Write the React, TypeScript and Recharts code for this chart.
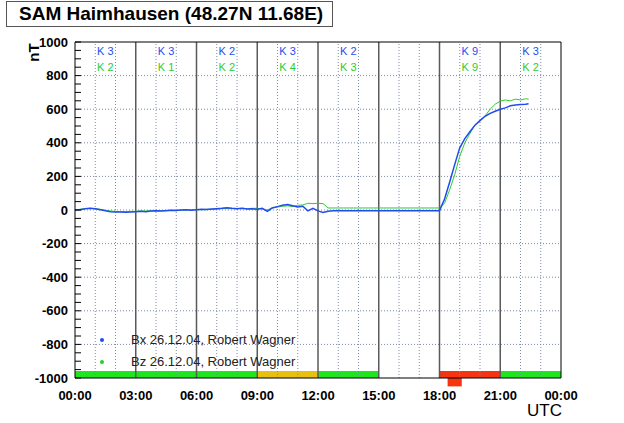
import React from 'react';
import {
  LineChart,
  Line,
  XAxis,
  YAxis,
  ReferenceLine,
  ReferenceArea,
  ReferenceDot,
} from 'recharts';

// time of day in hours (UTC)
const HOURS = [
  0, 0.25, 0.5, 0.75, 1, 1.25, 1.5, 1.75, 2, 2.25, 2.5, 2.75, 3, 3.25, 3.5, 3.75,
  4, 4.25, 4.5, 4.75, 5, 5.25, 5.5, 5.75, 6, 6.25, 6.5, 6.75, 7, 7.25, 7.5, 7.75,
  8, 8.25, 8.5, 8.75, 9, 9.25, 9.5, 9.75, 10, 10.25, 10.5, 10.75, 11, 11.25, 11.5, 11.75,
  12, 12.25, 12.5, 12.75, 13, 13.25, 13.5, 13.75, 14, 14.25, 14.5, 14.75, 15, 15.25, 15.5, 15.75,
  16, 16.25, 16.5, 16.75, 17, 17.25, 17.5, 17.75, 18, 18.25, 18.5, 18.75, 19, 19.25, 19.5, 19.75,
  20, 20.25, 20.5, 20.75, 21, 21.25, 21.5, 21.75, 22, 22.25, 22.4,
];

// Bx in nT (blue)
const BX = [
  0, 2, 8, 10, 8, 2, -5, -10, -12, -12, -14, -12, -10, -8, -10, -6,
  -5, -6, -4, -2, -3, 0, 2, -1, 2, 4, 3, 6, 8, 10, 14, 10,
  8, 10, 6, 8, 4, 10, -8, 12, 20, 28, 32, 25, 18, 22, -5, 10,
  -5, -15, -8, -4, -4, -4, -4, -4, -4, -4, -4, -4, -4, -4, -4, -4,
  -4, -4, -4, -4, -4, -4, -4, -4, -4, 65, 165, 270, 370, 425, 466, 505,
  532, 558, 575, 588, 600, 608, 620, 625, 628, 630, 632,
];

// Bz in nT (green)
const BZ = [
  2, 4, 8, 10, 8, 4, -2, -6, -8, -10, -10, -8, -8, -6, -6, -4,
  -4, -4, -2, -2, -2, 0, 0, 2, 2, 2, 4, 4, 6, 8, 8, 8,
  8, 10, 8, 10, 10, 5, 0, 15, 18, 22, 25, 20, 28, 30, 40, 38,
  40, 38, 12, 12, 12, 12, 12, 12, 12, 12, 12, 12, 12, 12, 12, 12,
  12, 12, 12, 12, 12, 12, 12, 12, 12, 40, 120, 210, 320, 400, 455, 505,
  535, 560, 600, 630, 648, 655, 650, 660, 655, 662, 660,
];

// 3-hour blocks with K indices
const BLOCK_START = [0, 3, 6, 9, 12, 15, 18, 21];
const K_BX = [3, 3, 2, 3, 2, null, 9, 3];
const K_BZ = [2, 1, 2, 4, 3, null, 9, 2];
const BAR_COLORS = ['#1ee61e', '#1ee61e', '#1ee61e', '#e8c00f', '#1ee61e', null, '#f63410', '#1ee61e'];

const X_TICKS = [0, 3, 6, 9, 12, 15, 18, 21, 24];
const Y_GRID = [-800, -600, -400, -200, 0, 200, 400, 600, 800];
// every 50 nT gets a small tick; every 200 nT also gets a label
const Y_TICKS = Array.from({ length: 41 }, (_, i) => -1000 + i * 50);
const HOUR_LINES = [1, 2, 4, 5, 7, 8, 10, 11, 13, 14, 16, 17, 19, 20, 22, 23];
const BLOCK_LINES = [3, 6, 9, 12, 15, 18, 21];

const BLUE = '#1f4cf0';
const GREEN = '#2ccc2c';
const GRID = '#7d8aa8';
const FONT = '"Liberation Sans", Arial, Helvetica, sans-serif';

const data = HOURS.map((t, i) => ({ t, bx: BX[i], bz: BZ[i] }));

const fmtTime = (h: number) => `${String(h % 24).padStart(2, '0')}:00`;

const YTick = ({ x, y, payload }: any) => {
  const v = payload.value;
  return (
    <g>
      <line x1={x + 6} x2={x + 12} y1={y} y2={y} stroke="#000" />
      {v % 200 === 0 && (
        <text x={x - 1} y={y} dy={4.5} textAnchor="end" fill="#000" fontSize={13} fontWeight="bold" fontFamily={FONT}>
          {v}
        </text>
      )}
    </g>
  );
};

export default function App() {
  return (
    <div style={{ position: 'absolute', left: 0, top: 0, width: 624, height: 423, background: '#fff', fontFamily: FONT }}>
      <LineChart width={624} height={423} data={data} margin={{ top: 42, right: 63, bottom: 0, left: 0 }}>
        {/* K index strip along the bottom */}
        {BLOCK_START.map((s, i) =>
          BAR_COLORS[i] ? (
            <ReferenceArea key={'bar' + i} x1={s} x2={s + 3} y1={-1000} y2={-958} fill={BAR_COLORS[i]} fillOpacity={1} stroke="none" />
          ) : null
        )}
        <ReferenceArea x1={18.4} x2={19.1} y1={-1050} y2={-1000} fill="#f63410" fillOpacity={1} stroke="none" ifOverflow="visible" />

        {Y_GRID.map((v) => (
          <ReferenceLine key={'g' + v} y={v} stroke={GRID} strokeDasharray="1 2" />
        ))}
        {HOUR_LINES.map((h) => (
          <ReferenceLine key={'h' + h} x={h} stroke={GRID} strokeDasharray="1 2" />
        ))}
        {BLOCK_LINES.map((h) => (
          <ReferenceLine key={'b' + h} x={h} stroke="#5a5a5a" strokeWidth={1.5} />
        ))}
        <ReferenceLine y={1000} stroke="#000" />
        <ReferenceLine x={24} stroke="#000" />

        {BLOCK_START.map((s, i) =>
          K_BX[i] != null ? (
            <ReferenceDot key={'kx' + i} x={s + 1.5} y={946} r={0} stroke="none" fill="none"
              label={{ value: `K ${K_BX[i]}`, position: 'center', fill: BLUE, fontSize: 11, fontFamily: FONT }} />
          ) : null
        )}
        {BLOCK_START.map((s, i) =>
          K_BZ[i] != null ? (
            <ReferenceDot key={'kz' + i} x={s + 1.5} y={851} r={0} stroke="none" fill="none"
              label={{ value: `K ${K_BZ[i]}`, position: 'center', fill: GREEN, fontSize: 11, fontFamily: FONT }} />
          ) : null
        )}

        <XAxis
          dataKey="t"
          type="number"
          domain={[0, 24]}
          ticks={X_TICKS}
          tickFormatter={fmtTime}
          height={45}
          tickLine={false}
          tickMargin={7}
          axisLine={{ stroke: '#000' }}
          tick={{ fill: '#000', fontSize: 13, fontWeight: 'bold', fontFamily: FONT }}
        />
        <YAxis
          domain={[-1000, 1000]}
          ticks={Y_TICKS}
          width={75}
          tickLine={false}
          tickSize={6}
          tickMargin={0}
          interval={0}
          axisLine={{ stroke: '#000' }}
          tick={<YTick />}
        />

        <Line dataKey="bz" stroke={GREEN} strokeWidth={1} dot={false} isAnimationActive={false} />
        <Line dataKey="bx" stroke={BLUE} strokeWidth={1.5} dot={false} isAnimationActive={false} />
      </LineChart>

      <div style={{ position: 'absolute', left: 6, top: 1, width: 313, height: 24, border: '1px solid #555', background: '#fff', fontSize: 19, fontWeight: 'bold', lineHeight: '24px', paddingLeft: 12, boxSizing: 'content-box', whiteSpace: 'nowrap' }}>
        SAM Haimhausen (48.27N 11.68E)
      </div>
      <div style={{ position: 'absolute', left: 25, top: 44, width: 16, height: 16, display: 'flex', alignItems: 'center', justifyContent: 'center' }}>
        <span style={{ transform: 'rotate(-90deg)', fontSize: 15, fontWeight: 'bold', whiteSpace: 'nowrap' }}>nT</span>
      </div>
      <div style={{ position: 'absolute', left: 527, top: 402, fontSize: 17, lineHeight: '17px' }}>UTC</div>

      {[{ c: BLUE, t: 'Bx 26.12.04, Robert Wagner', y: 340 }, { c: GREEN, t: 'Bz 26.12.04, Robert Wagner', y: 362 }].map((r) => (
        <div key={r.t}>
          <div style={{ position: 'absolute', left: 100, top: r.y - 2, width: 4, height: 4, borderRadius: 2, background: r.c }} />
          <div style={{ position: 'absolute', left: 131, top: r.y - 8, fontSize: 13, color: '#222', lineHeight: '16px' }}>{r.t}</div>
        </div>
      ))}
    </div>
  );
}
